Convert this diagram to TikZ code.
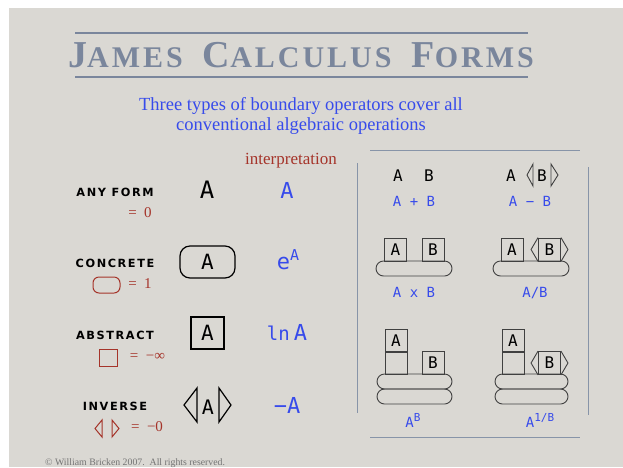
\documentclass[tikz,border=0pt]{standalone}
\usepackage{fontspec}
\setmainfont{Liberation Serif}
\newfontfamily\monof{DejaVu Sans Mono}
\newfontfamily\headf[LetterSpace=10]{Liberation Serif}
\newfontfamily\capf[LetterSpace=14]{DejaVu Sans}
\usetikzlibrary{positioning}
\definecolor{paper}{RGB}{218,216,211}
\definecolor{slate}{RGB}{122,134,156}
\definecolor{rust}{RGB}{165,52,42}
\definecolor{ink}{RGB}{55,75,235}
\definecolor{rule}{RGB}{135,148,168}
\newcommand{\fsz}[1]{\fontsize{#1}{#1}\selectfont}
\newcommand{\tcap}[2]{{\fsz{38}#1}{\fsz{30}#2}}
\tikzset{hd/.style={text=slate, anchor=base, inner sep=0pt, font=\headf\bfseries},
  sub/.style={text=ink, anchor=base, inner sep=0pt, align=center, font=\fsz{18.5}},
  kind/.style={anchor=base, inner sep=0pt, font=\capf\bfseries\fsz{11.3}},
  val/.style={text=rust, anchor=base, inner sep=0pt, font=\fsz{15}},
  glyph/.style={anchor=base, inner sep=0pt, font=\monof\fsz{24}},
  interp/.style={text=ink, anchor=base, inner sep=0pt, font=\monof\fsz{22}},
  form/.style={draw, line width=1.2pt, inner sep=0pt, minimum width=33, minimum height=32, font=\monof\fsz{21}},
  sbox/.style={draw=black!75, line width=0.9pt, inner sep=0pt, minimum width=22, minimum height=23, font=\monof\fsz{16}},
  bar/.style={draw=black!75, line width=0.9pt, rounded corners=7.5pt, minimum width=76, minimum height=15, inner sep=0pt},
  brk/.style={draw=black!75, line width=0.9pt},
  op/.style={anchor=base, inner sep=0pt, font=\monof\fsz{16}},
  res/.style={text=ink, anchor=base, inner sep=0pt, font=\monof\fsz{14}}}

\begin{document}
\begin{tikzpicture}[x=1pt, y=-1pt]
  \useasboundingbox (0,0) rectangle (623,467);
  \fill[white] (0,0) rectangle (623,467);
  \fill[paper] (9,8) rectangle (623,467);
  % title
  \draw[slate, line width=1.2pt] (75,33) -- (528,33);
  \node[hd] (title) at (301,67) {\tcap{J}{AMES}\hspace{20pt}\tcap{C}{ALCULUS}\hspace{20pt}\tcap{F}{ORMS}};
  \draw[slate, line width=1.2pt] (75,77) -- (528,77);
  \node[sub] (lead1) at (301,110) {Three types of boundary operators cover all};
  \node[sub] (lead2) at (301,130) {conventional algebraic operations};
  \node[val, font=\fsz{17}] (interp) at (291,164) {interpretation};
  % any form
  \node[kind] (k1) at (115,196) {ANY FORM};
  \node[val] (v1) at (140,217) {=\ \ 0};
  \node[glyph] (g1) at (207,198) {A};
  \node[interp] (i1) at (287,198) {A};
  % concrete
  \node[kind] (k2) at (115,267) {CONCRETE};
  \node[draw=rust, line width=1pt, rounded corners=6pt, minimum width=27, minimum height=16, inner sep=0pt] (m2) at (106.5,285) {};
  \node[val] (v2) at (140,288) {=\ \ 1};
  \node[form, rounded corners=10pt, minimum width=55] (g2) at (207.5,262) {A};
  \node[interp] (i2) at (288,269) {e\raisebox{9pt}{\fsz{15}A}};
  % abstract
  \node[kind] (k3) at (115,339) {ABSTRACT};
  \node[draw=rust, line width=1pt, minimum width=18, minimum height=17, inner sep=0pt] (m3) at (108,357.5) {};
  \node[val] (v3) at (147.5,360) {=\ \ −∞};
  \node[form] (g3) at (207.5,333) {A};
  \node[interp] (i3) at (287,340) {{\fsz{19}ln}\hspace{4pt}A};
  % inverse
  \node[kind] (k4) at (115,410) {INVERSE};
  \draw[rust, line width=1pt] (102,420) -- (95,428.5) -- (102,437) -- cycle;
  \draw[rust, line width=1pt] (112,420) -- (119,428.5) -- (112,437) -- cycle;
  \node[val] (v4) at (147,431) {=\ \ −0};
  \node[glyph, font=\monof\fsz{20}] (g4) at (208,414) {A};
  \draw[line width=1.2pt] (197,388) -- (184,405) -- (197,422) -- cycle;
  \draw[line width=1.2pt] (219,388) -- (231,405) -- (219,422) -- cycle;
  \node[interp] (i4) at (287,413) {−A};
  % operations panel
  \draw[rule, line width=1pt] (370,150) -- (580,150);
  \draw[rule, line width=1pt] (357,163) -- (357,413);
  \draw[rule, line width=1pt] (588,167) -- (588,415);
  \draw[rule, line width=1pt] (370,437) -- (580,437);
  % sum
  \node[op] (sa) at (398,181) {A};
  \node[op] (sb) at (429,181) {B};
  \node[res] (sum) at (414,206) {A + B};
  % difference
  \node[op] (da) at (511,181) {A};
  \node[op] (db) at (542,181) {B};
  \draw[brk] (533,164) -- (527,175) -- (533,186) -- cycle;
  \draw[brk] (551,164) -- (558,175) -- (551,186) -- cycle;
  \node[res] (diff) at (530,206) {A − B};
  % product
  \node[sbox] (pa) at (395.5,249.5) {A};
  \node[sbox] (pb) at (433,249.5) {B};
  \node[bar] (pbar) at (414,268.5) {};
  \node[res] (prod) at (414,297) {A x B};
  % quotient
  \node[sbox] (qa) at (512,249.5) {A};
  \node[sbox] (qb) at (549.5,249.5) {B};
  \draw[brk] (qb.north west) -- ([xshift=-7pt]qb.west) -- (qb.south west);
  \draw[brk] (qb.north east) -- ([xshift=7pt]qb.east) -- (qb.south east);
  \node[bar] (qbar) at (531,268.5) {};
  \node[res] (quot) at (535,297) {A/B};
  % power
  \node[sbox] (ea) at (396,341) {A};
  \node[sbox] (ee) at (396,363) {};
  \node[sbox] (eb) at (433,363) {B};
  \node[bar, minimum width=75] (ebar1) at (414.5,381.5) {};
  \node[bar, minimum width=75] (ebar2) at (414.5,396.5) {};
  \node[res] (pow) at (413,427) {A\raisebox{6pt}{\fsz{11}B}};
  % root
  \node[sbox] (ra) at (513,341) {A};
  \node[sbox] (re) at (513,363) {};
  \node[sbox] (rb) at (549.5,363) {B};
  \draw[brk] (rb.north west) -- ([xshift=-7pt]rb.west) -- (rb.south west);
  \draw[brk] (rb.north east) -- ([xshift=7pt]rb.east) -- (rb.south east);
  \node[bar, minimum width=73] (rbar1) at (531.5,381.5) {};
  \node[bar, minimum width=73] (rbar2) at (531.5,396.5) {};
  \node[res] (root) at (540,427) {A\raisebox{6pt}{\fsz{11}1/B}};
  % footer
  \node[anchor=base west, inner sep=0pt, text=black!55, font=\fsz{9.8}] (copy) at (45,465) {\textcopyright\ William Bricken 2007.\ \ All rights reserved.};
\end{tikzpicture}
\end{document}
